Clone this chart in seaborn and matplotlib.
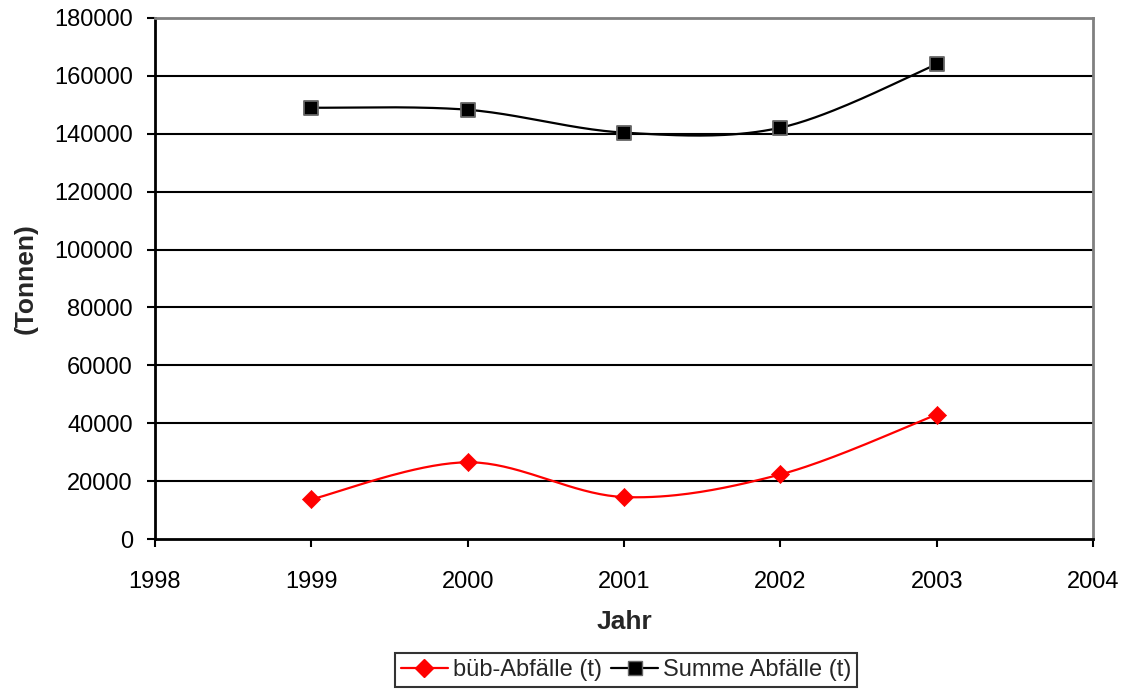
import numpy as np
import pandas as pd
import matplotlib
matplotlib.use("Agg")
import matplotlib.pyplot as plt
import seaborn as sns
from matplotlib.lines import Line2D

# Abfallmengen pro Jahr (Tonnen)
jahre = [1999, 2000, 2001, 2002, 2003]
bueb_abfaelle = [13700, 26500, 14500, 22300, 43000]
summe_abfaelle = [149000, 148300, 140400, 142100, 164000]
y_ticks = [0, 20000, 40000, 60000, 80000, 100000, 120000, 140000, 160000, 180000]
x_ticks = [1998, 1999, 2000, 2001, 2002, 2003, 2004]
label_bueb = "büb-Abfälle (t)"
label_summe = "Summe Abfälle (t)"


def smooth_curve(x, y, n=40):
    """Bezier-smoothed line through the points (Catmull-Rom control points)."""
    x = np.asarray(x, float)
    y = np.asarray(y, float)
    pts = np.column_stack([x, y])
    ext = np.vstack([pts[0], pts, pts[-1]])
    t = np.linspace(0, 1, n)[:, None]
    seg = []
    for i in range(len(pts) - 1):
        p0, p1, p2, p3 = ext[i], ext[i + 1], ext[i + 2], ext[i + 3]
        c1 = p1 + (p2 - p0) / 6.0
        c2 = p2 - (p3 - p1) / 6.0
        b = ((1 - t) ** 3) * p1 + 3 * ((1 - t) ** 2) * t * c1 \
            + 3 * (1 - t) * t ** 2 * c2 + t ** 3 * p2
        seg.append(b if i == 0 else b[1:])
    curve = np.vstack(seg)
    return curve[:, 0], curve[:, 1]


sns.set_theme(style="white")
plt.rcParams["font.family"] = ["Liberation Sans", "DejaVu Sans"]

fig = plt.figure(figsize=(11.26, 6.9), dpi=100)
ax = fig.add_axes([155 / 1126, 1 - 539 / 690, (1093 - 155) / 1126, (539 - 18) / 690])

# horizontal gridlines (top edge is the plot-area border)
for v in y_ticks[1:-1]:
    ax.axhline(v, color="black", lw=1.5, zorder=0)

bx, by = smooth_curve(jahre, bueb_abfaelle)
sx, sy = smooth_curve(jahre, summe_abfaelle)
df_b = pd.DataFrame({"Jahr": bx, "Tonnen": by})
df_s = pd.DataFrame({"Jahr": sx, "Tonnen": sy})

sns.lineplot(data=df_b, x="Jahr", y="Tonnen", sort=False, estimator=None,
             color="#FF0000", lw=1.6, ax=ax, zorder=3)
sns.lineplot(data=df_s, x="Jahr", y="Tonnen", sort=False, estimator=None,
             color="black", lw=1.6, ax=ax, zorder=3)

pts = pd.DataFrame({"Jahr": jahre, "bueb": bueb_abfaelle, "summe": summe_abfaelle})
sns.scatterplot(data=pts, x="Jahr", y="bueb", marker="D", s=85, color="#FF0000",
                edgecolor="#FF0000", linewidth=0.5, ax=ax, zorder=4)
sns.scatterplot(data=pts, x="Jahr", y="summe", marker="s", s=95, color="black",
                edgecolor="#666666", linewidth=1.3, ax=ax, zorder=4)

ax.set_xlim(1998, 2004)
ax.set_ylim(0, 180000)
ax.set_xticks(x_ticks)
ax.set_yticks(y_ticks)
ax.set_xticklabels([str(v) for v in x_ticks])
ax.set_yticklabels([str(v) for v in y_ticks])
ax.tick_params(axis="both", direction="out", length=6, width=1.5, colors="black",
               labelsize=17, pad=10)
ax.tick_params(axis="x", pad=17)
ax.tick_params(left=True, bottom=True)

for side in ["left", "bottom"]:
    ax.spines[side].set_color("black")
    ax.spines[side].set_linewidth(2)
for side in ["top", "right"]:
    ax.spines[side].set_color("#808080")
    ax.spines[side].set_linewidth(2)

ax.set_xlabel("Jahr", fontsize=19, fontweight="bold", labelpad=12)
ax.set_ylabel("(Tonnen)", fontsize=19, fontweight="bold", labelpad=12)

handles = [
    Line2D([], [], color="#FF0000", lw=1.6, marker="D", markersize=9,
           markerfacecolor="#FF0000", markeredgecolor="#FF0000"),
    Line2D([], [], color="black", lw=1.6, marker="s", markersize=9.5,
           markerfacecolor="black", markeredgecolor="#666666"),
]
leg = fig.legend(handles, [label_bueb, label_summe], loc="upper center",
                 bbox_to_anchor=(626 / 1126, 1 - 653 / 690), ncol=2, fontsize=17,
                 frameon=True, fancybox=False, edgecolor="black", handlelength=2.0,
                 handletextpad=0.2, columnspacing=0.4, borderpad=0.25,
                 borderaxespad=0)
leg.get_frame().set_linewidth(1.5)

fig.savefig("out.png", dpi=100, facecolor="white")
